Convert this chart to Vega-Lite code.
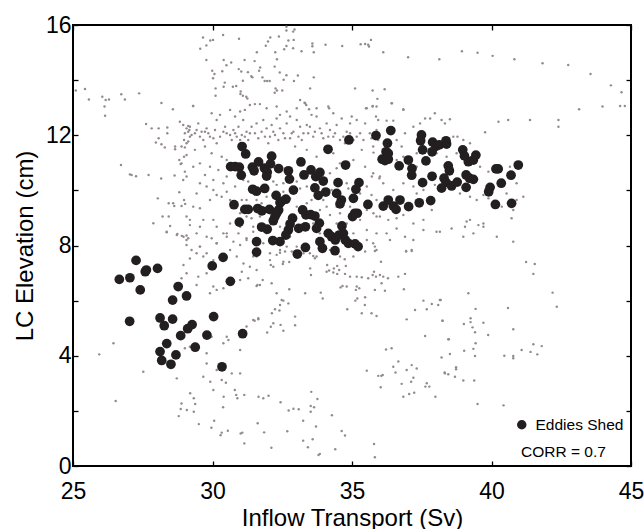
{
"$schema": "https://vega.github.io/schema/vega-lite/v6.json",
"width": 558, "height": 441,
"autosize": {"type": "none"},
"padding": {"left": 73, "top": 25, "right": 13, "bottom": 63},
"background": "white",
"config": {
 "view": {"stroke": "black", "strokeWidth": 2},
 "font": "Liberation Sans",
 "axis": {"grid": false, "domain": false, "tickColor": "black", "tickWidth": 1.3, "tickSize": -5, "labelColor": "black", "titleColor": "black", "labelFont": "Liberation Sans", "titleFont": "Liberation Sans", "labelFontSize": 23, "titleFontSize": 24, "titleFontWeight": "normal", "labelFlush": false, "labelOverlap": false}
},
"datasets": {
 "gray": [
{"x":25.10,"y":13.62},{"x":25.43,"y":13.68},{"x":25.57,"y":13.30},{"x":26.05,"y":13.40},{"x":26.17,"y":13.28},{"x":26.29,"y":13.30},{"x":26.13,"y":13.04},{"x":26.73,"y":13.49},{"x":26.86,"y":13.30},{"x":27.37,"y":13.52},{"x":28.17,"y":13.17},{"x":28.58,"y":12.94},{"x":29.30,"y":13.06},{"x":29.56,"y":15.14},{"x":29.66,"y":15.55},{"x":29.78,"y":15.26},{"x":29.92,"y":15.44},{"x":30.02,"y":15.46},{"x":30.38,"y":15.64},{"x":30.95,"y":15.50},{"x":29.78,"y":14.73},{"x":29.99,"y":14.34},{"x":30.07,"y":14.22},{"x":30.02,"y":14.07},{"x":30.35,"y":14.32},{"x":30.40,"y":14.73},{"x":30.50,"y":14.54},{"x":30.67,"y":14.64},{"x":30.44,"y":13.91},{"x":30.40,"y":13.76},{"x":30.11,"y":13.70},{"x":30.11,"y":13.43},{"x":30.73,"y":13.76},{"x":30.85,"y":13.79},{"x":31.01,"y":13.59},{"x":31.00,"y":13.50},{"x":31.09,"y":13.43},{"x":31.21,"y":13.40},{"x":31.25,"y":13.33},{"x":30.94,"y":14.40},{"x":31.03,"y":14.31},{"x":31.15,"y":14.73},{"x":31.09,"y":13.98},{"x":31.27,"y":14.29},{"x":31.39,"y":14.14},{"x":31.43,"y":14.10},{"x":31.51,"y":14.69},{"x":31.59,"y":15.01},{"x":31.67,"y":14.34},{"x":31.71,"y":14.46},{"x":31.79,"y":14.10},{"x":31.87,"y":13.97},{"x":31.91,"y":15.25},{"x":31.99,"y":15.40},{"x":32.07,"y":15.55},{"x":31.96,"y":13.97},{"x":32.05,"y":13.97},{"x":32.25,"y":15.01},{"x":32.23,"y":14.49},{"x":32.31,"y":14.76},{"x":32.26,"y":13.70},{"x":32.31,"y":13.62},{"x":32.23,"y":13.54},{"x":32.38,"y":15.58},{"x":32.41,"y":14.28},{"x":32.50,"y":13.62},{"x":32.55,"y":14.01},{"x":32.57,"y":15.12},{"x":32.65,"y":15.24},{"x":32.65,"y":15.94},{"x":32.65,"y":15.80},{"x":32.72,"y":15.44},{"x":32.65,"y":14.18},{"x":32.89,"y":15.16},{"x":32.91,"y":15.46},{"x":32.89,"y":15.76},{"x":32.94,"y":15.84},{"x":32.92,"y":13.97},{"x":33.06,"y":14.17},{"x":33.19,"y":15.05},{"x":33.14,"y":13.28},{"x":33.30,"y":13.18},{"x":33.36,"y":13.10},{"x":33.50,"y":13.70},{"x":33.58,"y":15.33},{"x":33.58,"y":15.23},{"x":33.63,"y":15.01},{"x":33.63,"y":14.10},{"x":33.46,"y":12.94},{"x":34.05,"y":15.28},{"x":34.65,"y":15.24},{"x":34.18,"y":12.98},
{"x":35.31,"y":15.30},{"x":35.47,"y":15.31},{"x":35.58,"y":15.28},{"x":35.61,"y":15.22},{"x":35.68,"y":15.46},{"x":36.12,"y":15.01},{"x":37.01,"y":14.83},{"x":38.13,"y":14.76},{"x":38.94,"y":15.05},{"x":39.50,"y":14.99},{"x":40.04,"y":14.88},{"x":40.82,"y":14.76},{"x":41.83,"y":14.61},{"x":42.75,"y":14.55},{"x":43.55,"y":14.22},{"x":44.28,"y":13.81},{"x":44.66,"y":13.56},{"x":35.11,"y":13.70},{"x":35.74,"y":13.62},{"x":36.17,"y":13.67},{"x":35.91,"y":13.32},{"x":36.43,"y":13.16},{"x":35.50,"y":12.98},{"x":35.74,"y":13.04},{"x":36.84,"y":12.94},{"x":43.14,"y":12.94},{"x":43.98,"y":13.04},{"x":44.61,"y":13.06},{"x":44.78,"y":13.06},
{"x":41.24,"y":7.40},{"x":41.55,"y":7.33},{"x":41.50,"y":6.97},{"x":42.19,"y":6.29},{"x":42.34,"y":5.78},{"x":39.17,"y":6.27},{"x":38.15,"y":6.02},{"x":39.43,"y":5.70},{"x":38.25,"y":5.27},{"x":40.59,"y":5.73},{"x":39.01,"y":5.15},{"x":39.25,"y":5.22},{"x":39.25,"y":5.36},{"x":39.41,"y":4.85},{"x":39.71,"y":5.20},{"x":39.32,"y":5.03},{"x":39.88,"y":4.75},{"x":38.45,"y":4.60},{"x":39.43,"y":4.45},{"x":40.78,"y":4.96},{"x":39.02,"y":4.18},{"x":39.35,"y":4.25},{"x":39.41,"y":3.99},{"x":38.21,"y":3.94},{"x":38.51,"y":4.06},{"x":38.32,"y":3.39},{"x":38.45,"y":3.33},{"x":38.73,"y":3.58},{"x":38.73,"y":3.51},{"x":38.69,"y":3.24},{"x":38.99,"y":3.10},{"x":39.38,"y":3.10},{"x":40.46,"y":4.00},{"x":40.78,"y":3.99},{"x":40.78,"y":3.91},{"x":41.08,"y":4.21},{"x":41.40,"y":4.14},{"x":41.50,"y":4.42},{"x":41.64,"y":4.05},{"x":41.80,"y":4.35},{"x":39.50,"y":2.25},{"x":40.43,"y":2.20},
{"x":31.46,"y":7.60},{"x":31.68,"y":7.74},{"x":32.06,"y":7.47},{"x":32.09,"y":7.29},{"x":32.18,"y":7.23},{"x":32.30,"y":7.66},{"x":32.42,"y":7.74},{"x":32.52,"y":7.33},{"x":32.60,"y":7.78},{"x":32.54,"y":7.41},{"x":32.75,"y":7.40},{"x":32.84,"y":7.78},{"x":32.96,"y":7.66},{"x":33.14,"y":7.72},{"x":33.61,"y":7.62},{"x":33.67,"y":7.54},{"x":33.50,"y":7.17},{"x":33.53,"y":6.93},{"x":34.11,"y":7.29},{"x":34.09,"y":7.05},{"x":34.18,"y":7.09},{"x":34.33,"y":7.02},{"x":34.35,"y":7.17},{"x":34.47,"y":7.26},{"x":34.47,"y":6.97},{"x":34.54,"y":7.11},{"x":34.74,"y":7.50},{"x":34.78,"y":7.26},{"x":34.93,"y":6.87},{"x":34.75,"y":6.97},{"x":35.17,"y":6.87},{"x":35.35,"y":6.85},{"x":35.58,"y":6.81},{"x":35.74,"y":6.93},{"x":35.79,"y":7.05},{"x":35.86,"y":6.87},{"x":36.00,"y":6.93},{"x":36.12,"y":6.87},{"x":36.29,"y":6.81},{"x":36.66,"y":6.87},{"x":36.90,"y":6.97},{"x":36.94,"y":7.80},{"x":37.14,"y":7.80},{"x":36.04,"y":7.41},{"x":35.82,"y":7.80},
{"x":31.61,"y":6.57},{"x":31.58,"y":6.53},{"x":31.80,"y":6.75},{"x":32.12,"y":6.63},{"x":32.75,"y":6.41},{"x":32.30,"y":6.27},{"x":32.48,"y":6.02},{"x":32.54,"y":6.00},{"x":32.72,"y":5.90},{"x":32.42,"y":5.84},{"x":32.40,"y":5.64},{"x":32.24,"y":5.69},{"x":32.13,"y":5.54},{"x":32.09,"y":5.05},{"x":32.18,"y":5.18},{"x":31.96,"y":4.84},{"x":32.44,"y":5.12},{"x":32.54,"y":4.91},{"x":32.96,"y":5.42},{"x":32.96,"y":5.11},{"x":31.51,"y":5.27},{"x":31.64,"y":5.32},{"x":33.32,"y":6.27},{"x":33.88,"y":6.29},{"x":33.95,"y":6.08},{"x":34.59,"y":6.48},{"x":34.66,"y":6.53},{"x":34.81,"y":6.51},{"x":35.17,"y":6.51},{"x":35.14,"y":6.39},{"x":35.26,"y":6.45},{"x":35.19,"y":6.08},{"x":35.12,"y":6.00},{"x":35.47,"y":6.12},{"x":35.46,"y":5.84},{"x":35.35,"y":5.54},{"x":35.70,"y":5.54},{"x":35.88,"y":5.44},{"x":34.83,"y":5.69},{"x":35.82,"y":6.39},{"x":36.06,"y":6.63},{"x":36.18,"y":6.36},{"x":36.86,"y":6.41},{"x":36.96,"y":5.32},{"x":37.26,"y":5.66},{"x":37.56,"y":6.00},{"x":37.68,"y":5.69},{"x":37.86,"y":5.88},{"x":38.09,"y":5.84},{"x":38.18,"y":6.02},{"x":38.24,"y":5.27},{"x":37.62,"y":4.72},{"x":38.47,"y":4.60},{"x":38.33,"y":3.36},
{"x":36.22,"y":4.23},{"x":36.42,"y":4.27},{"x":36.66,"y":3.79},{"x":36.48,"y":3.60},{"x":36.56,"y":3.39},{"x":36.96,"y":3.48},{"x":37.14,"y":3.66},{"x":37.32,"y":3.54},{"x":37.20,"y":3.20},{"x":37.12,"y":3.06},{"x":36.78,"y":2.98},{"x":36.05,"y":3.27},{"x":35.94,"y":3.27},{"x":36.10,"y":3.30},{"x":35.53,"y":3.46},{"x":36.03,"y":2.86},{"x":36.84,"y":2.51},{"x":37.05,"y":2.61},{"x":37.23,"y":2.66},{"x":37.68,"y":3.00},{"x":37.77,"y":2.88},{"x":37.63,"y":2.88},{"x":37.99,"y":2.51},{"x":31.65,"y":2.51},{"x":31.82,"y":2.46},{"x":32.01,"y":2.55},{"x":32.44,"y":2.31},{"x":32.73,"y":2.01},{"x":32.90,"y":2.08},{"x":33.09,"y":2.06},{"x":33.54,"y":2.69},{"x":33.76,"y":2.43},{"x":33.52,"y":2.18},{"x":33.64,"y":2.13},{"x":33.52,"y":1.97},{"x":34.28,"y":1.84},{"x":33.25,"y":1.64},{"x":33.71,"y":1.43},{"x":31.62,"y":1.55},{"x":31.85,"y":1.22},{"x":32.68,"y":1.26},{"x":33.25,"y":0.92},{"x":33.59,"y":0.97},{"x":33.42,"y":0.68},{"x":32.11,"y":0.66},{"x":33.85,"y":0.44},{"x":33.80,"y":0.40},{"x":34.40,"y":0.61},{"x":34.63,"y":1.27},{"x":34.75,"y":1.11},{"x":35.79,"y":0.80},{"x":35.82,"y":0.32},
{"x":26.53,"y":2.36},{"x":28.89,"y":2.27},{"x":28.86,"y":2.07},{"x":29.08,"y":2.03},{"x":29.20,"y":2.64},{"x":29.33,"y":2.46},{"x":29.38,"y":2.25},{"x":29.33,"y":1.97},{"x":28.79,"y":1.81},{"x":29.51,"y":1.52},{"x":29.92,"y":3.06},{"x":30.03,"y":2.76},{"x":30.06,"y":1.64},{"x":29.96,"y":1.39},{"x":30.38,"y":2.13},{"x":30.40,"y":2.51},{"x":30.48,"y":3.02},{"x":30.29,"y":1.12},{"x":30.33,"y":1.21},{"x":30.55,"y":1.28},{"x":30.80,"y":2.76},{"x":30.85,"y":2.58},{"x":30.89,"y":2.46},{"x":31.01,"y":1.18},{"x":31.07,"y":1.21},{"x":31.14,"y":2.58},{"x":31.14,"y":0.82},
{"x":26.15,"y":12.71},{"x":27.62,"y":12.41},{"x":27.82,"y":12.25},{"x":28.07,"y":12.25},{"x":28.38,"y":12.28},{"x":28.38,"y":12.07},{"x":28.07,"y":11.89},{"x":27.97,"y":11.74},{"x":28.17,"y":11.67},{"x":28.29,"y":11.56},{"x":28.66,"y":11.59},{"x":28.66,"y":11.49},{"x":28.83,"y":12.49},{"x":29.13,"y":12.34},{"x":29.17,"y":12.19},{"x":28.98,"y":11.83},{"x":29.07,"y":11.71},{"x":29.13,"y":11.77},{"x":29.01,"y":11.56},{"x":28.81,"y":11.10},{"x":28.86,"y":10.96},{"x":28.98,"y":11.22},{"x":26.72,"y":10.92},{"x":27.04,"y":10.58},{"x":27.10,"y":10.56},{"x":27.26,"y":10.51},{"x":27.71,"y":10.56},{"x":28.16,"y":10.43},{"x":28.64,"y":10.54},{"x":28.81,"y":9.93},{"x":28.04,"y":9.71},{"x":28.43,"y":9.53},{"x":28.59,"y":9.53},{"x":28.63,"y":9.43},{"x":28.89,"y":9.43},{"x":29.02,"y":9.51},{"x":28.21,"y":9.05},{"x":28.43,"y":9.05},{"x":27.88,"y":8.81},{"x":28.48,"y":8.71},{"x":28.36,"y":8.48},{"x":28.74,"y":8.42},{"x":28.90,"y":8.35},{"x":29.07,"y":8.36},{"x":29.19,"y":8.74},
{"x":29.31,"y":13.06},{"x":29.97,"y":12.80},{"x":30.27,"y":12.74},{"x":30.63,"y":12.92},{"x":30.81,"y":12.68},{"x":30.99,"y":12.86},{"x":31.16,"y":12.92},{"x":31.34,"y":13.10},{"x":31.52,"y":13.13},{"x":31.70,"y":13.13},{"x":31.94,"y":12.98},{"x":32.30,"y":13.04},{"x":32.42,"y":12.74},{"x":32.66,"y":12.86},{"x":32.78,"y":12.68},{"x":33.02,"y":12.98},{"x":33.32,"y":13.16},{"x":33.55,"y":12.74},{"x":33.73,"y":12.68},{"x":34.15,"y":13.04},{"x":34.33,"y":12.80},{"x":34.63,"y":12.61},{"x":34.99,"y":12.68},{"x":35.53,"y":12.98},{"x":35.88,"y":13.04},{"x":29.01,"y":12.07},{"x":29.13,"y":12.13},{"x":29.25,"y":12.01},{"x":29.43,"y":12.19},{"x":29.55,"y":11.95},{"x":29.67,"y":11.83},{"x":29.85,"y":12.07},{"x":30.03,"y":11.89},{"x":30.15,"y":11.71},{"x":30.51,"y":12.07},{"x":30.75,"y":12.19},{"x":30.93,"y":12.31},{"x":31.05,"y":12.01},{"x":31.22,"y":12.13},{"x":31.40,"y":12.31},{"x":31.58,"y":12.43},{"x":31.76,"y":12.13},{"x":31.94,"y":12.25},{"x":32.12,"y":12.37},{"x":32.24,"y":12.01},{"x":32.42,"y":12.25},{"x":32.66,"y":12.43},{"x":32.90,"y":12.13},{"x":33.14,"y":12.31},{"x":33.38,"y":12.37},{"x":33.61,"y":11.95},{"x":33.85,"y":12.25},{"x":34.09,"y":12.43},{"x":34.33,"y":11.95},{"x":34.57,"y":11.83},{"x":34.81,"y":12.13},{"x":35.05,"y":11.83},{"x":35.29,"y":12.07},{"x":35.47,"y":12.43},{"x":35.76,"y":11.59},{"x":28.89,"y":11.59},{"x":29.07,"y":11.28},{"x":29.37,"y":11.47},{"x":29.73,"y":11.59},{"x":29.97,"y":11.35},{"x":30.33,"y":11.22},{"x":30.51,"y":11.10},{"x":28.89,"y":10.98},{"x":29.55,"y":10.98},{"x":29.91,"y":10.86},{"x":30.21,"y":10.74},{"x":32.96,"y":11.59},{"x":33.38,"y":11.47},{"x":33.73,"y":11.22},{"x":34.33,"y":11.35},{"x":34.57,"y":10.98},{"x":34.45,"y":10.80},{"x":35.05,"y":11.10},{"x":35.47,"y":10.86},{"x":35.76,"y":10.62},{"x":35.98,"y":10.44},{"x":28.95,"y":10.38},{"x":29.55,"y":10.26},{"x":30.03,"y":10.38},{"x":30.39,"y":10.26},{"x":31.10,"y":10.38},{"x":31.28,"y":10.32},{"x":32.18,"y":10.32},{"x":32.54,"y":10.26},{"x":33.02,"y":10.32},{"x":34.21,"y":10.62},{"x":34.81,"y":10.26},{"x":35.53,"y":10.14},{"x":29.31,"y":9.41},{"x":29.55,"y":9.35},{"x":29.91,"y":9.65},{"x":30.33,"y":9.77},{"x":30.63,"y":9.65},{"x":31.22,"y":9.65},{"x":31.94,"y":9.77},{"x":32.78,"y":9.71},{"x":33.38,"y":9.53},{"x":33.85,"y":9.29},{"x":34.21,"y":9.11},{"x":34.45,"y":9.41},{"x":34.93,"y":9.41},{"x":35.53,"y":9.29},{"x":35.88,"y":9.65},{"x":29.19,"y":8.93},{"x":29.67,"y":8.93},{"x":30.15,"y":8.68},{"x":30.63,"y":8.80},{"x":31.22,"y":9.05},{"x":31.46,"y":8.68},{"x":32.42,"y":8.68},{"x":33.61,"y":8.80},{"x":34.45,"y":8.80},{"x":35.53,"y":8.56},{"x":29.07,"y":8.20},{"x":29.55,"y":7.96},{"x":30.15,"y":8.08},{"x":30.63,"y":7.84},{"x":31.22,"y":8.20},{"x":31.82,"y":8.08},{"x":32.42,"y":7.84},{"x":33.02,"y":7.96},{"x":33.49,"y":7.72},{"x":34.21,"y":7.84},{"x":35.05,"y":7.60},{"x":35.76,"y":8.08},
{"x":29.19,"y":12.31},{"x":29.49,"y":12.43},{"x":29.73,"y":12.13},{"x":30.15,"y":12.55},{"x":30.39,"y":12.13},{"x":30.69,"y":11.83},{"x":30.87,"y":11.95},{"x":31.10,"y":12.55},{"x":31.28,"y":11.83},{"x":31.52,"y":12.07},{"x":31.82,"y":12.55},{"x":32.06,"y":11.95},{"x":32.30,"y":12.61},{"x":32.54,"y":12.07},{"x":32.78,"y":11.89},{"x":33.02,"y":12.55},{"x":33.26,"y":12.07},{"x":33.49,"y":12.31},{"x":33.73,"y":12.98},{"x":33.97,"y":11.89},{"x":34.21,"y":12.19},{"x":34.45,"y":12.37},{"x":34.75,"y":11.71},{"x":34.93,"y":12.43},{"x":35.17,"y":12.55},{"x":35.35,"y":11.47},{"x":35.64,"y":12.07},{"x":35.94,"y":12.55},{"x":29.01,"y":10.68},{"x":29.31,"y":10.86},{"x":29.73,"y":10.56},{"x":30.03,"y":10.01},{"x":30.51,"y":10.50},{"x":30.81,"y":10.14},{"x":31.05,"y":9.65},{"x":31.58,"y":9.65},{"x":31.76,"y":9.53},{"x":32.30,"y":10.20},{"x":32.54,"y":9.95},{"x":33.14,"y":10.07},{"x":33.38,"y":10.14},{"x":33.55,"y":9.65},{"x":33.97,"y":9.65},{"x":34.27,"y":10.01},{"x":34.87,"y":10.07},{"x":35.29,"y":9.89},{"x":35.70,"y":9.83},{"x":29.43,"y":8.44},{"x":29.79,"y":8.32},{"x":30.39,"y":8.44},{"x":30.93,"y":8.44},{"x":31.58,"y":7.60},{"x":32.06,"y":7.72},{"x":32.66,"y":7.96},{"x":33.26,"y":7.72},{"x":33.73,"y":7.60},{"x":34.57,"y":7.60},{"x":35.47,"y":7.78},{"x":35.88,"y":8.44},{"x":35.53,"y":8.20},{"x":28.98,"y":9.65},{"x":29.07,"y":9.05},
{"x":28.95,"y":12.37},{"x":29.07,"y":12.25},{"x":29.19,"y":11.95},{"x":29.37,"y":12.07},{"x":29.61,"y":12.13},{"x":29.79,"y":12.25},{"x":29.91,"y":11.95},{"x":30.09,"y":12.19},{"x":30.27,"y":11.95},{"x":30.45,"y":12.31},{"x":30.63,"y":12.01},{"x":30.81,"y":12.07},{"x":30.99,"y":11.83},{"x":31.16,"y":11.95},{"x":31.34,"y":12.07},{"x":31.64,"y":11.89},{"x":31.88,"y":11.95},{"x":32.00,"y":11.71},{"x":32.18,"y":12.13},{"x":32.36,"y":11.83},{"x":32.60,"y":11.89},{"x":32.84,"y":12.07},{"x":33.08,"y":11.95},{"x":33.20,"y":11.83},{"x":33.43,"y":12.07},{"x":33.67,"y":12.13},{"x":33.91,"y":12.07},{"x":34.15,"y":11.95},{"x":34.39,"y":12.07},{"x":34.69,"y":11.95},{"x":34.93,"y":12.07},{"x":35.17,"y":11.95},{"x":35.41,"y":11.83},{"x":35.70,"y":11.89},{"x":35.88,"y":12.19},
{"x":29.07,"y":10.50},{"x":29.43,"y":9.89},{"x":29.79,"y":10.14},{"x":30.15,"y":9.83},{"x":30.51,"y":9.95},{"x":30.75,"y":9.41},{"x":30.99,"y":9.17},{"x":31.40,"y":8.99},{"x":31.70,"y":9.05},{"x":32.06,"y":9.17},{"x":32.42,"y":9.41},{"x":33.02,"y":9.41},{"x":33.61,"y":9.17},{"x":34.09,"y":9.41},{"x":34.57,"y":9.17},{"x":34.81,"y":8.80},{"x":35.29,"y":8.93},{"x":35.88,"y":9.05},{"x":29.55,"y":8.68},{"x":30.03,"y":8.93},{"x":30.51,"y":8.44},{"x":30.99,"y":8.68},{"x":31.94,"y":8.44},{"x":32.78,"y":8.32},{"x":33.85,"y":8.44},{"x":35.05,"y":8.44},
{"x":35.74,"y":13.06},{"x":36.42,"y":13.16},{"x":36.84,"y":12.92},{"x":35.86,"y":12.68},{"x":36.24,"y":12.53},{"x":36.48,"y":12.53},{"x":36.90,"y":12.07},{"x":37.20,"y":12.31},{"x":37.44,"y":12.43},{"x":37.62,"y":12.61},{"x":37.80,"y":12.61},{"x":37.97,"y":12.80},{"x":38.21,"y":12.55},{"x":38.33,"y":12.43},{"x":38.51,"y":12.58},{"x":38.63,"y":11.95},{"x":38.78,"y":11.95},{"x":38.99,"y":11.83},{"x":39.23,"y":11.71},{"x":39.77,"y":12.11},{"x":40.25,"y":12.49},{"x":40.60,"y":12.55},{"x":41.38,"y":12.55},{"x":42.40,"y":12.55},{"x":42.40,"y":12.31},{"x":35.77,"y":11.37},{"x":35.94,"y":11.83},{"x":36.60,"y":11.83},{"x":36.78,"y":11.59},{"x":36.60,"y":11.10},{"x":36.84,"y":11.22},{"x":37.32,"y":11.35},{"x":37.32,"y":10.86},{"x":38.03,"y":11.35},{"x":38.39,"y":11.22},{"x":38.75,"y":11.35},{"x":39.59,"y":10.86},{"x":39.89,"y":10.68},{"x":40.19,"y":10.86},{"x":40.66,"y":10.86},{"x":40.90,"y":10.26},{"x":41.14,"y":9.77},{"x":40.78,"y":9.29},{"x":40.90,"y":9.65},{"x":35.71,"y":10.50},{"x":36.00,"y":10.50},{"x":36.12,"y":10.26},{"x":36.48,"y":10.01},{"x":36.84,"y":10.26},{"x":37.20,"y":10.14},{"x":37.32,"y":9.89},{"x":37.56,"y":10.01},{"x":37.97,"y":10.20},{"x":38.21,"y":10.01},{"x":38.51,"y":10.32},{"x":38.87,"y":9.89},{"x":39.23,"y":9.77},{"x":39.47,"y":9.65},{"x":39.71,"y":9.83},{"x":39.89,"y":9.71},{"x":40.37,"y":9.41},{"x":40.54,"y":9.89},{"x":35.77,"y":9.17},{"x":36.00,"y":9.05},{"x":36.30,"y":8.93},{"x":36.60,"y":8.99},{"x":36.84,"y":9.11},{"x":37.20,"y":8.80},{"x":37.56,"y":8.93},{"x":37.86,"y":9.29},{"x":38.15,"y":8.50},{"x":38.57,"y":8.62},{"x":39.05,"y":8.68},{"x":39.11,"y":8.87},{"x":39.23,"y":8.93},{"x":39.53,"y":8.74},{"x":39.71,"y":8.68},{"x":40.19,"y":8.32},{"x":40.72,"y":8.99},{"x":40.78,"y":8.14},{"x":35.82,"y":7.96},{"x":36.24,"y":8.44},{"x":36.36,"y":8.20},{"x":36.60,"y":8.62},{"x":36.90,"y":8.32},{"x":37.14,"y":7.84},{"x":37.20,"y":8.20},{"x":37.56,"y":8.56},{"x":38.03,"y":8.50},{"x":38.99,"y":8.32},{"x":39.35,"y":8.44},{"x":39.71,"y":8.80},{"x":35.88,"y":7.84},{"x":36.94,"y":7.78},
{"x":28.36,"y":8.50},{"x":28.72,"y":8.38},{"x":28.96,"y":8.32},{"x":29.13,"y":8.26},{"x":29.07,"y":8.02},{"x":29.25,"y":7.84},{"x":29.43,"y":7.72},{"x":29.55,"y":7.96},{"x":29.79,"y":7.72},{"x":29.97,"y":8.26},{"x":30.15,"y":8.08},{"x":30.51,"y":8.32},{"x":30.75,"y":8.14},{"x":30.99,"y":8.02},{"x":31.22,"y":8.26},{"x":31.46,"y":8.50},{"x":29.19,"y":7.53},{"x":29.67,"y":7.60},{"x":30.03,"y":7.47},{"x":30.87,"y":7.60},{"x":31.11,"y":7.35},{"x":31.34,"y":7.23},{"x":31.05,"y":7.05},{"x":31.28,"y":6.81},{"x":31.58,"y":7.11},{"x":31.70,"y":6.57},{"x":28.96,"y":7.29},{"x":29.07,"y":6.99},{"x":28.89,"y":6.81},{"x":29.49,"y":6.87},{"x":29.79,"y":6.99},{"x":30.03,"y":6.51},{"x":30.15,"y":6.39},{"x":30.39,"y":6.45},{"x":29.43,"y":6.57},{"x":29.91,"y":6.27},{"x":30.99,"y":6.75},{"x":31.46,"y":5.30},{"x":31.22,"y":5.06},{"x":31.64,"y":5.36},{"x":31.05,"y":4.93},{"x":30.51,"y":4.69},{"x":26.45,"y":4.45},{"x":25.94,"y":4.05},{"x":27.52,"y":3.42},{"x":29.01,"y":4.27},{"x":29.19,"y":4.33},{"x":29.79,"y":4.09},{"x":29.97,"y":4.69},{"x":30.39,"y":4.45},{"x":30.57,"y":4.57},{"x":30.99,"y":4.21},{"x":29.79,"y":3.72},{"x":30.15,"y":3.48},{"x":29.67,"y":3.24},{"x":30.69,"y":3.36},{"x":30.99,"y":3.36},{"x":30.33,"y":3.12},{"x":28.72,"y":3.18}
 ],
 "eddies": [
{"x":27.26,"y":7.46},{"x":26.66,"y":6.77},{"x":27.04,"y":6.83},{"x":27.59,"y":7.05},{"x":27.63,"y":7.11},{"x":28.03,"y":7.17},{"x":27.41,"y":6.39},{"x":28.77,"y":6.51},{"x":28.57,"y":6.02},{"x":29.07,"y":6.17},{"x":27.03,"y":5.25},{"x":28.12,"y":5.37},{"x":28.27,"y":5.09},{"x":28.57,"y":5.33},{"x":29.11,"y":4.98},{"x":29.27,"y":5.13},{"x":28.86,"y":4.73},{"x":28.36,"y":4.44},{"x":28.12,"y":4.15},{"x":28.18,"y":3.83},{"x":28.51,"y":3.69},{"x":28.69,"y":4.03},{"x":29.38,"y":4.31},{"x":29.80,"y":4.75},{"x":30.04,"y":5.42},{"x":30.34,"y":3.60},{"x":31.08,"y":4.80},{"x":29.99,"y":7.26},{"x":30.38,"y":7.57},{"x":30.64,"y":6.70},{"x":31.58,"y":8.14},{"x":31.58,"y":7.76},
{"x":31.06,"y":11.59},{"x":31.19,"y":11.32},{"x":30.65,"y":10.86},{"x":30.81,"y":10.86},{"x":30.96,"y":10.84},{"x":31.03,"y":10.55},{"x":31.43,"y":10.84},{"x":31.49,"y":10.71},{"x":31.65,"y":11.03},{"x":31.86,"y":10.81},{"x":31.96,"y":10.66},{"x":31.94,"y":10.52},{"x":32.12,"y":11.24},{"x":32.08,"y":10.96},{"x":32.37,"y":10.79},{"x":32.72,"y":10.71},{"x":32.76,"y":10.41},{"x":33.17,"y":11.03},{"x":33.28,"y":10.56},{"x":33.53,"y":10.74},{"x":33.70,"y":10.50},{"x":33.85,"y":10.65},{"x":33.97,"y":10.34},{"x":34.14,"y":11.49},{"x":34.77,"y":10.92},{"x":34.89,"y":11.83},{"x":34.50,"y":10.28},{"x":35.25,"y":10.28},{"x":35.14,"y":10.04},{"x":35.86,"y":11.99},{"x":31.44,"y":10.04},{"x":31.58,"y":9.97},{"x":31.87,"y":10.07},{"x":32.28,"y":9.82},{"x":32.47,"y":9.60},{"x":32.63,"y":9.68},{"x":32.90,"y":10.01},{"x":33.67,"y":10.09},{"x":33.79,"y":9.82},{"x":34.06,"y":9.94},{"x":34.45,"y":9.89},{"x":34.62,"y":9.65},{"x":34.57,"y":9.51},{"x":35.05,"y":9.71},{"x":35.57,"y":9.49},{"x":30.77,"y":9.48},{"x":31.16,"y":9.31},{"x":31.28,"y":9.31},{"x":31.62,"y":9.34},{"x":31.77,"y":9.26},{"x":32.04,"y":9.31},{"x":32.42,"y":9.55},{"x":32.37,"y":9.29},{"x":32.30,"y":9.17},{"x":32.24,"y":9.05},{"x":32.18,"y":8.90},{"x":33.23,"y":9.29},{"x":33.35,"y":9.11},{"x":33.52,"y":9.12},{"x":33.67,"y":9.07},{"x":33.83,"y":8.81},{"x":33.73,"y":8.62},{"x":35.10,"y":9.17},{"x":35.19,"y":9.17},{"x":35.02,"y":9.05},{"x":30.96,"y":8.85},{"x":31.76,"y":8.67},{"x":31.96,"y":8.59},{"x":32.87,"y":8.99},{"x":32.78,"y":8.78},{"x":33.09,"y":8.62},{"x":33.33,"y":8.68},{"x":32.72,"y":8.56},{"x":32.63,"y":8.38},{"x":34.15,"y":8.44},{"x":34.27,"y":8.32},{"x":34.40,"y":8.20},{"x":34.54,"y":8.38},{"x":34.69,"y":8.44},{"x":34.64,"y":8.71},{"x":34.76,"y":8.20},{"x":34.87,"y":8.08},{"x":35.11,"y":8.06},{"x":35.22,"y":7.96},{"x":33.85,"y":8.14},{"x":33.94,"y":7.90},{"x":34.39,"y":7.81},{"x":32.16,"y":8.18},{"x":32.42,"y":8.14},{"x":33.33,"y":7.93},{"x":33.04,"y":7.69},
{"x":36.39,"y":12.17},{"x":36.27,"y":11.71},{"x":36.22,"y":11.40},{"x":36.30,"y":11.34},{"x":36.08,"y":11.13},{"x":36.18,"y":11.08},{"x":36.30,"y":11.13},{"x":36.69,"y":10.89},{"x":37.02,"y":11.10},{"x":37.15,"y":10.79},{"x":37.14,"y":10.55},{"x":37.49,"y":12.01},{"x":37.46,"y":11.80},{"x":37.53,"y":11.47},{"x":37.65,"y":11.07},{"x":37.89,"y":11.75},{"x":38.01,"y":11.60},{"x":38.13,"y":11.65},{"x":38.37,"y":11.80},{"x":38.39,"y":11.68},{"x":37.87,"y":11.40},{"x":37.53,"y":10.28},{"x":37.87,"y":10.51},{"x":38.45,"y":10.89},{"x":38.49,"y":10.71},{"x":38.30,"y":10.44},{"x":38.37,"y":10.29},{"x":38.21,"y":10.08},{"x":38.57,"y":10.16},{"x":38.77,"y":10.30},{"x":38.97,"y":11.47},{"x":39.03,"y":11.25},{"x":39.17,"y":11.04},{"x":39.35,"y":11.10},{"x":39.44,"y":11.28},{"x":39.09,"y":10.56},{"x":39.21,"y":10.44},{"x":39.35,"y":10.40},{"x":39.09,"y":10.11},{"x":40.16,"y":10.78},{"x":40.24,"y":10.78},{"x":40.70,"y":10.55},{"x":40.96,"y":10.92},{"x":40.35,"y":10.26},{"x":39.95,"y":10.11},{"x":39.90,"y":9.95},{"x":40.14,"y":9.49},{"x":40.72,"y":9.53},{"x":36.12,"y":9.43},{"x":36.30,"y":9.65},{"x":36.48,"y":9.43},{"x":36.58,"y":9.31},{"x":36.72,"y":9.65},{"x":37.03,"y":9.41},{"x":37.41,"y":9.55},{"x":37.82,"y":9.63}
 ]
},
"layer": [
 {
  "data": {"name": "gray"},
  "mark": {"type": "circle", "size": 6, "color": "#938a8f", "opacity": 1},
  "encoding": {
   "x": {"field": "x", "type": "quantitative", "scale": {"domain": [25, 45], "nice": false, "zero": false},
         "axis": {"orient": "bottom", "values": [25, 30, 35, 40, 45], "title": "Inflow Transport (Sv)", "labelPadding": 19, "titlePadding": 3}},
   "y": {"field": "y", "type": "quantitative", "scale": {"domain": [0, 16], "nice": false, "zero": false},
         "axis": {"orient": "left", "values": [0, 2, 4, 6, 8, 10, 12, 14, 16], "labelExpr": "datum.value % 4 === 0 ? datum.label : ''", "title": "LC Elevation (cm)", "labelPadding": 7, "titlePadding": 8}}
  }
 },
 {
  "data": {"name": "eddies"},
  "mark": {"type": "circle", "size": 95, "opacity": 1},
  "encoding": {
   "x": {"field": "x", "type": "quantitative", "axis": null},
   "y": {"field": "y", "type": "quantitative", "axis": null},
   "color": {"datum": "Eddies Shed", "type": "nominal", "scale": {"range": ["#231f20"]},
     "legend": {"orient": "none", "legendX": 441, "legendY": 392, "title": null, "labelFontSize": 15.5, "labelFont": "Liberation Sans", "labelColor": "black", "symbolSize": 90, "symbolType": "circle", "padding": 0, "labelOffset": 6}}
  }
 },
 {
  "data": {"values": [{"x": 42.58, "y": 0.52, "t": "CORR = 0.7"}]},
  "mark": {"type": "text", "fontSize": 15.5, "font": "Liberation Sans", "color": "black", "align": "center", "baseline": "middle"},
  "encoding": {
   "x": {"field": "x", "type": "quantitative", "axis": null},
   "y": {"field": "y", "type": "quantitative", "axis": null},
   "text": {"field": "t"}
  }
 },
 {
  "data": {"values": [{"x": 25, "y": 0}]},
  "mark": {"type": "point", "opacity": 0},
  "encoding": {
   "x": {"field": "x", "type": "quantitative", "axis": {"orient": "top", "values": [25, 30, 35, 40, 45], "labels": false, "title": null}},
   "y": {"field": "y", "type": "quantitative", "axis": {"orient": "right", "values": [0, 2, 4, 6, 8, 10, 12, 14, 16], "labels": false, "title": null}}
  }
 }
],
"resolve": {"axis": {"x": "independent", "y": "independent"}}
}
